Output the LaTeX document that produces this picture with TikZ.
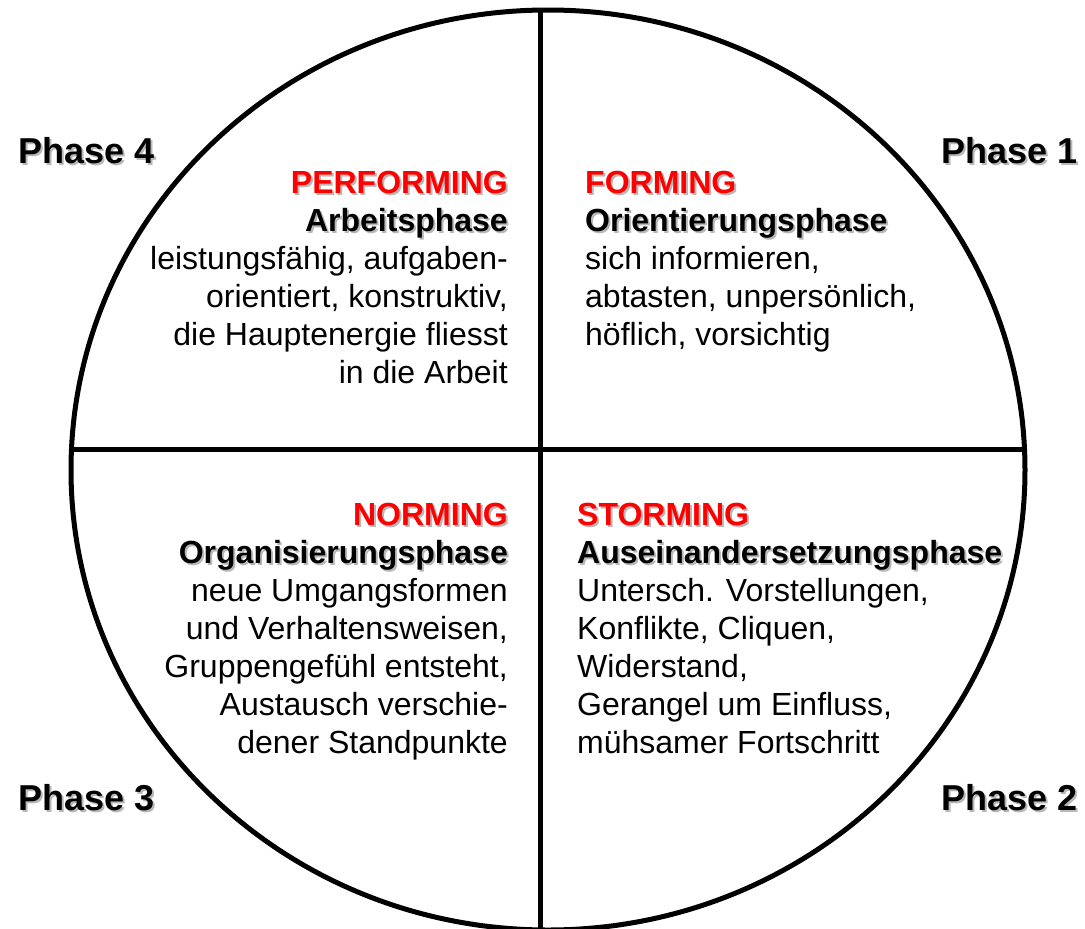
\documentclass[tikz,border=0pt]{standalone}
\usepackage{fontspec}
\setmainfont{Liberation Sans}
\definecolor{shgray}{gray}{0.72}
\definecolor{hred}{RGB}{255,0,0}
\newcommand\shd[2]{\makebox[0pt][l]{\hspace{2pt}\raisebox{-2pt}{\textcolor{shgray}{#2}}}\textcolor{#1}{#2}}
\begin{document}
\begin{tikzpicture}[x=1pt,y=-1pt,
  ring/.style={line width=5pt, draw=black},
  block/.style={inner sep=0pt, font=\fontsize{32}{38}\selectfont},
  lblock/.style={block, align=right, anchor=north east},
  rblock/.style={block, align=left, anchor=north west},
  phase/.style={inner sep=0pt, font=\fontsize{36}{43}\selectfont\bfseries}]
\useasboundingbox (0,0) rectangle (1085,929);
\clip (0,0) rectangle (1085,929);
% circle and axes
\coordinate (ctr) at (548,470);
\coordinate (vtop) at (540,10);
\coordinate (vbot) at (540,935);
\coordinate (hl) at (71.5,449);
\coordinate (hr) at (1024.5,449);
\draw[ring] (ctr) ellipse [x radius=477pt, y radius=460pt];
\draw[ring] (vtop) -- (vbot);
\draw[ring] (hl) -- (hr);
% phase labels
\node[phase, anchor=north west] (p4) at (18,137) {\shd{black}{Phase 4}};
\node[phase, anchor=north east] (p1) at (1078,137) {\shd{black}{Phase 1}};
\node[phase, anchor=north west] (p3) at (18,784) {\shd{black}{Phase 3}};
\node[phase, anchor=north east] (p2) at (1078,784) {\shd{black}{Phase 2}};
% quadrants
\node[lblock] (perf) at (508,171) {\bfseries\shd{hred}{PERFORMING}\\
  \bfseries\shd{black}{Arbeitsphase}\\
  leistungsfähig, aufgaben-\\
  orientiert, konstruktiv,\\
  die Hauptenergie fliesst\\
  in die Arbeit};
\node[rblock] (form) at (585,171) {\bfseries\shd{hred}{FORMING}\\
  \bfseries\shd{black}{Orientierungsphase}\\
  sich informieren,\\
  abtasten, unpersönlich,\\
  höflich, vorsichtig};
\node[lblock] (norm) at (508,503) {\bfseries\shd{hred}{NORMING}\\
  \bfseries\shd{black}{Organisierungsphase}\\
  neue Umgangsformen\\
  und Verhaltensweisen,\\
  Gruppengefühl entsteht,\\
  Austausch verschie-\\
  dener Standpunkte};
\node[rblock] (storm) at (577,503) {\bfseries\shd{hred}{STORMING}\\
  \bfseries\shd{black}{Auseinandersetzungsphase}\\
  Untersch. Vorstellungen,\\
  Konflikte, Cliquen,\\
  Widerstand,\\
  Gerangel um Einfluss,\\
  mühsamer Fortschritt};
\end{tikzpicture}
\end{document}
